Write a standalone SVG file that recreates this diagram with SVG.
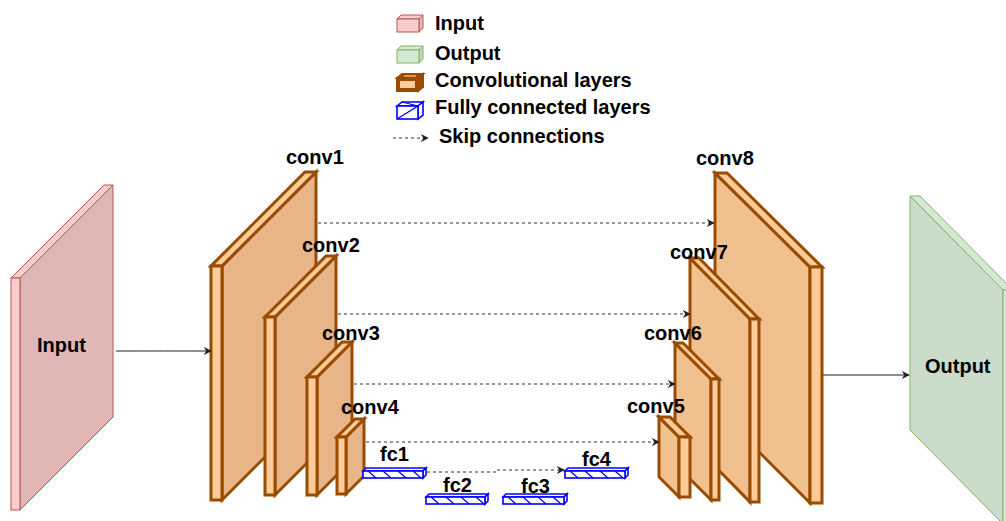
<svg xmlns="http://www.w3.org/2000/svg" width="1006" height="521" viewBox="0 0 1006 521">
<defs>
<marker id="arr" viewBox="0 0 10 10" refX="9" refY="5" markerWidth="8" markerHeight="8" markerUnits="userSpaceOnUse" orient="auto">
<path d="M0,0 L10,5 L0,10 L3,5 Z" fill="#222"/>
</marker>
<style>
text{font-family:"Liberation Sans",Arial,sans-serif;font-weight:bold;font-size:20px;fill:#000}
.cs{fill:#E8B588;stroke:#994C00;stroke-width:3;stroke-linejoin:miter}
.cs2{fill:#F0C18F;stroke:#994C00;stroke-width:3;stroke-linejoin:miter}
.cf{fill:#FFCC99;stroke:#994C00;stroke-width:3;stroke-linejoin:miter}
.fc{fill:#fff;stroke:#0000FF;stroke-width:1.6}
.fch{stroke:#0000FF;stroke-width:1.2;fill:none}
.skip{stroke:#333;stroke-width:1;stroke-dasharray:3,3;fill:none}
.solid{stroke:#222;stroke-width:1;fill:none}
</style>
</defs>

<g id="legend">
<g id="legend-input">
<polygon points="397,19 401,15 423,15 419,19" fill="#f8cecc" stroke="#b85450"/>
<polygon points="419,19 423,15 423,28 419,32" fill="#e5b9b7" stroke="#b85450"/>
<rect x="397" y="19" width="22" height="13" fill="#f8cecc" stroke="#b85450"/>
<text x="435" y="30">Input</text>
</g>
<g id="legend-output">
<polygon points="397,50 401,46 423,46 419,50" fill="#d5e8d4" stroke="#82b366"/>
<polygon points="419,50 423,46 423,59 419,63" fill="#c3d8c2" stroke="#82b366"/>
<rect x="397" y="50" width="22" height="13" fill="#d5e8d4" stroke="#82b366"/>
<text x="435" y="60">Output</text>
</g>
<g id="legend-conv">
<polygon points="397,78 402,74 423,74 418,78" fill="#994C00" stroke="#994C00" stroke-width="2"/>
<polygon points="418,78 423,74 423,87 418,91" fill="#994C00" stroke="#994C00" stroke-width="2"/>
<rect x="397" y="78" width="21" height="13" fill="#994C00" stroke="#994C00" stroke-width="2"/>
<rect x="400" y="81" width="15" height="7" fill="#FFCC99"/>
<line x1="404" y1="76" x2="416" y2="76" stroke="#FFCC99" stroke-width="1.2"/>
<text x="435" y="87">Convolutional layers</text>
</g>
<g id="legend-fc">
<polygon points="397,106 402,102 423,102 418,106" fill="#fff" stroke="#0000FF" stroke-width="1.6"/>
<polygon points="418,106 423,102 423,115 418,119" fill="#fff" stroke="#0000FF" stroke-width="1.6"/>
<rect x="397" y="106" width="21" height="13" fill="#fff" stroke="#0000FF" stroke-width="1.6"/>
<line x1="397" y1="119" x2="418" y2="106" stroke="#0000FF" stroke-width="1.4"/>
<line x1="402" y1="102" x2="418" y2="106" stroke="#0000FF" stroke-width="1.2"/>
<text x="435" y="114">Fully connected layers</text>
</g>
<g id="legend-skip">
<line x1="393" y1="138" x2="428" y2="138" class="skip" marker-end="url(#arr)"/>
<text x="439" y="143">Skip connections</text>
</g>
</g>

<g id="input">
<polygon points="20,278 113,185 113,417 20,510" fill="#DFB7B7" stroke="#b85450" stroke-width="1"/>
<polygon points="11,278 20,278 113,185 104,185" fill="#f8cecc" stroke="#b85450" stroke-width="1"/>
<rect x="11" y="278" width="9" height="232" fill="#f8cecc" stroke="#b85450" stroke-width="1"/>
<text x="37" y="352">Input</text>
</g>

<g id="conv1">
<polygon class="cs" points="222,266 316,172 316,406 222,500"/>
<polygon class="cf" points="211,266 222,266 316,172 305,172"/>
<rect class="cf" x="211" y="266" width="11" height="234"/>
<text x="286" y="164">conv1</text>
</g>
<g id="conv2">
<polygon class="cs" points="275,317 336,256 336,434 275,495"/>
<polygon class="cf" points="265,317 275,317 336,256 326,256"/>
<rect class="cf" x="265" y="317" width="10" height="178"/>
<text x="302" y="252">conv2</text>
</g>
<g id="conv3">
<polygon class="cs" points="317,377 352,342 352,460 317,495"/>
<polygon class="cf" points="307,377 317,377 352,342 342,342"/>
<rect class="cf" x="307" y="377" width="10" height="118"/>
<text x="322" y="340">conv3</text>
</g>
<g id="conv4">
<polygon class="cs" points="346,437 364,419 364,476 346,494"/>
<polygon class="cf" points="337,437 346,437 364,419 355,419"/>
<rect class="cf" x="337" y="437" width="9" height="57"/>
<text x="341" y="414">conv4</text>
</g>

<g id="conv8">
<polygon class="cs2" points="715,173 810,267 810,503 715,408"/>
<polygon class="cf" points="715,173 727,173 822,267 810,267"/>
<rect class="cf" x="810" y="267" width="12" height="236"/>
<text x="696" y="165">conv8</text>
</g>
<g id="conv7">
<polygon class="cs2" points="690,258 750,319 750,502 690,441"/>
<polygon class="cf" points="690,258 699,258 759,319 750,319"/>
<rect class="cf" x="750" y="319" width="9" height="183"/>
<text x="670" y="259">conv7</text>
</g>
<g id="conv6">
<polygon class="cs2" points="675,343 711,379 711,500 675,464"/>
<polygon class="cf" points="675,343 683,343 719,379 711,379"/>
<rect class="cf" x="711" y="379" width="8" height="121"/>
<text x="644" y="340">conv6</text>
</g>
<g id="conv5">
<polygon class="cs2" points="659,417 679,437 679,497 659,477"/>
<polygon class="cf" points="659,417 670,417 690,437 679,437"/>
<rect class="cf" x="679" y="437" width="11" height="60"/>
<text x="627" y="413">conv5</text>
</g>

<g id="fc1">
<polygon class="fc" points="363,471 366,468 426,468 423,471"/>
<polygon class="fc" points="423,471 426,468 426,475 423,478"/>
<rect class="fc" x="363" y="471" width="60" height="7"/>
<path class="fch" d="M368,471 L376,478 M383,471 L391,478 M398,471 L406,478 M413,471 L421,478"/>
<text x="380" y="461">fc1</text>
</g>
<g id="fc2">
<polygon class="fc" points="426,497 429,494 488,494 485,497"/>
<polygon class="fc" points="485,497 488,494 488,501 485,504"/>
<rect class="fc" x="426" y="497" width="59" height="7"/>
<path class="fch" d="M431,497 L439,504 M446,497 L454,504 M461,497 L469,504 M476,497 L484,504"/>
<text x="443" y="492">fc2</text>
</g>
<g id="fc3">
<polygon class="fc" points="503,497 506,494 567,494 564,497"/>
<polygon class="fc" points="564,497 567,494 567,501 564,504"/>
<rect class="fc" x="503" y="497" width="61" height="7"/>
<path class="fch" d="M508,497 L516,504 M523,497 L531,504 M538,497 L546,504 M553,497 L561,504"/>
<text x="521" y="493">fc3</text>
</g>
<g id="fc4">
<polygon class="fc" points="565,471 568,468 628,468 625,471"/>
<polygon class="fc" points="625,471 628,468 628,475 625,478"/>
<rect class="fc" x="565" y="471" width="60" height="7"/>
<path class="fch" d="M570,471 L578,478 M585,471 L593,478 M600,471 L608,478 M615,471 L623,478"/>
<text x="582" y="466">fc4</text>
</g>

<g id="output">
<polygon points="910,196 1003,290 1003,524 910,430" fill="#CBDCCA" stroke="#82b366" stroke-width="1"/>
<polygon points="910,196 920,196 1013,290 1003,290" fill="#d5e8d4" stroke="#82b366" stroke-width="1"/>
<rect x="1003" y="290" width="10" height="234" fill="#d5e8d4" stroke="#82b366" stroke-width="1"/>
<text x="925" y="373">Output</text>
</g>

<g id="connectors">
<path class="solid" d="M116,351 C160,351 170,351 211,351" marker-end="url(#arr)"/>
<line class="solid" x1="823" y1="375" x2="909" y2="375" marker-end="url(#arr)"/>
<line class="skip" x1="318" y1="223" x2="714" y2="223" marker-end="url(#arr)"/>
<line class="skip" x1="338" y1="314" x2="690" y2="314" marker-end="url(#arr)"/>
<line class="skip" x1="354" y1="384" x2="675" y2="384" marker-end="url(#arr)"/>
<line class="skip" x1="366" y1="442" x2="659" y2="442" marker-end="url(#arr)"/>
<path class="skip" d="M427,472 L496,472 L496,470 L564,470" marker-end="url(#arr)"/>
</g>
</svg>
